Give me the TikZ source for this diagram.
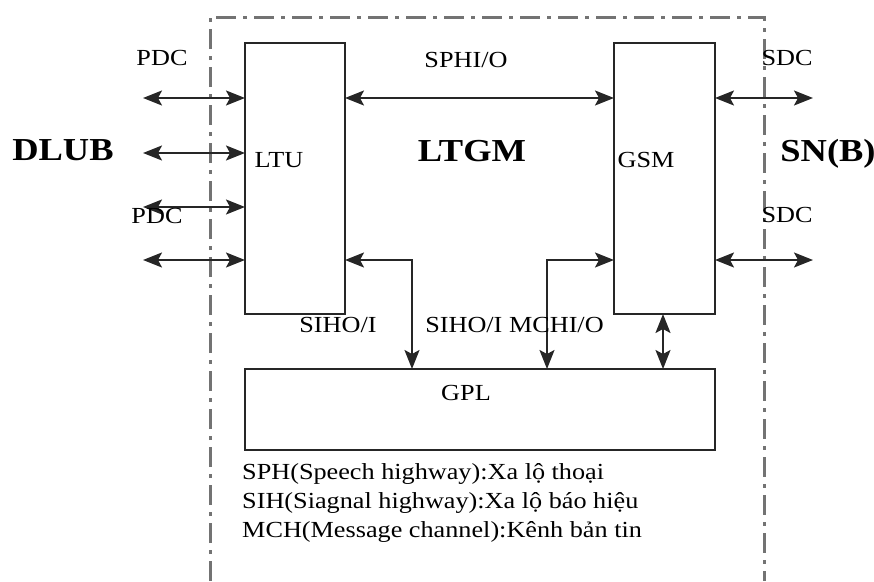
\documentclass[tikz,border=0pt]{standalone}
\usepackage{fontspec}
\setmainfont{Liberation Serif}[FakeStretch=1.14]
\usetikzlibrary{arrows.meta}
\begin{document}
\begin{tikzpicture}[x=1pt,y=-1pt,
  box/.style={draw=black!85, line width=2pt, inner sep=0pt, outer sep=0pt, minimum width=#1},
  tip/.style={Stealth[length=19pt,width=15pt,inset=4pt]},
  dar/.style={draw=black!85, line width=2pt, {Stealth[length=19pt,width=15pt,inset=4pt]}-{Stealth[length=19pt,width=15pt,inset=4pt]}},
  lbl/.style={font=\fontsize{23}{27}\selectfont, inner sep=0pt, anchor=base},
  big/.style={font=\fontsize{32}{36}\selectfont\bfseries, inner sep=0pt, anchor=base},
  leg/.style={font=\fontsize{23}{27}\selectfont, inner sep=0pt, anchor=base west},
  frame/.style={draw=black!55, line width=3pt, dash pattern=on 20pt off 7pt on 4pt off 7pt}
]
\useasboundingbox (0,0) rectangle (874,581);
% frame
\draw[frame] (210,581) -- (210,17) -- (764,17) -- (764,581);
% blocks
\node[box=100pt, minimum height=271pt] (ltu) at (295,178.5) {};
\node[box=101pt, minimum height=271pt] (gsm) at (664.5,178.5) {};
\node[box=470pt, minimum height=81pt] (gpl) at (480,409.5) {};
% row / column helpers
\coordinate (r1) at (0,98);
\coordinate (r2) at (0,153);
\coordinate (r3) at (0,207);
\coordinate (r4) at (0,260);
\coordinate (c1) at (412,0);
\coordinate (c2) at (547,0);
\coordinate (c3) at (663,0);
\coordinate (lx) at (143,0);
\coordinate (rx) at (813,0);
% left arrows
\draw[dar] (lx |- r1) -- (ltu.west |- r1);
\draw[dar] (lx |- r2) -- (ltu.west |- r2);
\draw[dar] (lx |- r3) -- (ltu.west |- r3);
\draw[dar] (lx |- r4) -- (ltu.west |- r4);
% right arrows
\draw[dar] (gsm.east |- r1) -- (rx |- r1);
\draw[dar] (gsm.east |- r4) -- (rx |- r4);
% SPH
\draw[dar] (ltu.east |- r1) -- (gsm.west |- r1);
% to GPL
\draw[dar] (ltu.east |- r4) -| (c1 |- gpl.north);
\draw[dar] (gsm.west |- r4) -| (c2 |- gpl.north);
\draw[dar] (c3 |- gsm.south) -- (c3 |- gpl.north);
% labels
\node[lbl] (pdc1) at (162,65) {PDC};
\node[lbl] (pdc2) at (157,223) {PDC};
\node[lbl] (sdc1) at (787,65) {SDC};
\node[lbl] (sdc2) at (787,222) {SDC};
\node[lbl] (sph) at (466,67) {SPHI/O};
\node[big] (dlub) at (63,160) {DLUB};
\node[big] (ltgm) at (472,161) {LTGM};
\node[big] (snb) at (828,161) {SN(B)};
\node[lbl] (ltut) at (279,167) {LTU};
\node[lbl] (gsmt) at (646,167) {GSM};
\node[lbl] (gplt) at (466,400) {GPL};
\node[lbl] (sih1) at (338,332) {SIHO/I};
\node[lbl] (sih2) at (514.5,332) {SIHO/I MCHI/O};
\node[leg] (leg1) at (242,479) {SPH(Speech highway):Xa lộ thoại};
\node[leg] (leg2) at (242,508) {SIH(Siagnal highway):Xa lộ báo hiệu};
\node[leg] (leg3) at (242,537) {MCH(Message channel):Kênh bản tin};
\end{tikzpicture}
\end{document}
